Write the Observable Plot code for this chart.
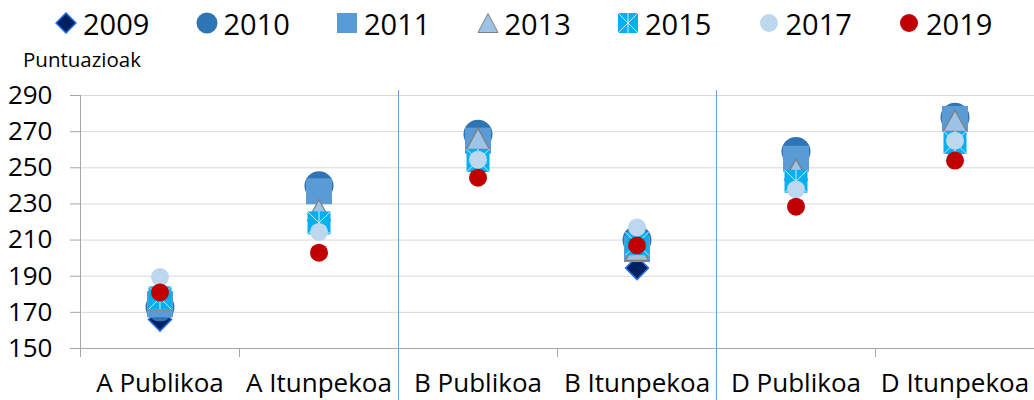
<!DOCTYPE html>
<html><head><meta charset="utf-8">
<script src="https://cdn.jsdelivr.net/npm/d3@7"></script>
<script src="https://cdn.jsdelivr.net/npm/@observablehq/plot@0.6"></script>
<style>
body{margin:0;background:#fff;font-family:"Open Sans",sans-serif;}
#wrap{position:relative;width:1034px;height:400px;overflow:hidden;background:#fff;}
#chart{position:absolute;left:0;top:0;}
#legend{position:absolute;left:55px;top:0;height:46px;display:flex;align-items:center;}
.item{width:140.5px;display:flex;align-items:center;}
.item svg{margin-right:6px;flex:none;}
.item span{font-size:29px;line-height:29px;color:#000;}
#ylab{position:absolute;left:23px;top:49px;font-size:20.5px;line-height:20px;color:#000;}
</style></head><body>
<div id="wrap"><div id="chart"></div><div id="legend"></div><div id="ylab"></div></div>
<script>
// ---- data ----
const categories = ["A Publikoa","A Itunpekoa","B Publikoa","B Itunpekoa","D Publikoa","D Itunpekoa"];
const groupStarts = ["B Publikoa","D Publikoa"];
const years = ["2009","2010","2011","2013","2015","2017","2019"];
const v2009 = [166, null, null, 194.5, null, null];
const v2010 = [173, 240, 268.5, 210, 259, 278];
const v2011 = [174.5, 237, 265, 205, 255, 277];
const v2013 = [177, 226.5, 266, 204.5, 249, 276];
const v2015 = [178, 219.5, 254, 208, 242.5, 264];
const v2017 = [189.5, 214.5, 254.5, 217, 238, 265];
const v2019 = [181, 203, 244.5, 207, 228.5, 254];
const yTicks = [150,170,190,210,230,250,270,290];
const yLabel = "Puntuazioak";

// ---- symbols ----
const rOf = s => Math.sqrt(s / Math.PI);
const symSquare = {draw(c, s){const r = rOf(s); c.rect(-r, -r, 2*r, 2*r);}};
const symDiamond = {draw(c, s){const r = rOf(s); c.moveTo(0,-r); c.lineTo(r,0); c.lineTo(0,r); c.lineTo(-r,0); c.closePath();}};
const symTriangle = {draw(c, s){const r = rOf(s); const h = r*0.91; c.moveTo(0,-h); c.lineTo(r,h); c.lineTo(-r,h); c.closePath();}};
const symAsterisk = {draw(c, s){const r = rOf(s); c.moveTo(-r,-r); c.lineTo(r,r); c.moveTo(r,-r); c.lineTo(-r,r); c.moveTo(0,-r); c.lineTo(0,r);}};

const rows = vals => categories.map((cat, i) => ({cat, value: vals[i]})).filter(d => d.value != null);

const W = 1034, H = 400, mL = 80, mR = 0, mT = 95, mB = 52;
const bw = (W - mL - mR) / categories.length;
const plotH = H - mT - mB;
const grey = "#a6a6a6";

const chart = Plot.plot({
  width: W, height: H,
  marginLeft: mL, marginRight: mR, marginTop: mT, marginBottom: mB,
  style: {fontFamily: "Open Sans", color: "#000", background: "transparent", overflow: "visible"},
  x: {type: "band", domain: categories, padding: 0, axis: null},
  y: {domain: [150, 290], axis: null},
  marks: [
    Plot.gridY(yTicks, {stroke: "#d9d9d9", strokeOpacity: 1}),
    Plot.ruleY([150], {stroke: grey}),
    Plot.ruleX([categories[0]], {dx: -bw/2, stroke: grey}),
    Plot.ruleX(categories, {dx: -bw/2, stroke: grey, insetTop: plotH, insetBottom: -9}),
    Plot.ruleX(groupStarts, {dx: -bw/2, stroke: "#6a9fd8", insetTop: -5, insetBottom: -60}),
    Plot.axisY(yTicks, {tickSize: 10, tickPadding: 18, fontSize: 26, stroke: grey, label: null}),
    Plot.axisX({tickSize: 0, tickPadding: 25, fontSize: 26, label: null}),
    Plot.dot(rows(v2009), {x: "cat", y: "value", symbol: symDiamond, r: 11.5, fill: "#002060", stroke: "#1f6fe8", strokeWidth: 1.5}),
    Plot.dot(rows(v2010), {x: "cat", y: "value", symbol: "circle", r: 14.5, fill: "#2e75b6"}),
    Plot.dot(rows(v2011), {x: "cat", y: "value", symbol: symSquare, r: 13, fill: "#5b9bd5"}),
    Plot.dot(rows(v2013), {x: "cat", y: "value", symbol: symTriangle, r: 11.5, fill: "#9dc3e6", stroke: "#7f7f7f", strokeWidth: 1.25}),
    Plot.dot(rows(v2015), {x: "cat", y: "value", symbol: symSquare, r: 11.5, fill: "#00b0f0"}),
    Plot.dot(rows(v2015), {x: "cat", y: "value", symbol: symAsterisk, r: 11.5, fill: "none", stroke: "#d4ecfa", strokeWidth: 1}),
    Plot.dot(rows(v2017), {x: "cat", y: "value", symbol: "circle", r: 9, fill: "#bdd7ee"}),
    Plot.dot(rows(v2019), {x: "cat", y: "value", symbol: "circle", r: 9, fill: "#c00000"})
  ]
});
document.getElementById("chart").appendChild(chart);
document.getElementById("ylab").textContent = yLabel;

// ---- legend ----
const legendMarkers = {
  "2009": '<svg width="22" height="22"><path d="M11,1 L21,11 L11,21 L1,11 Z" fill="#002060" stroke="#1f6fe8" stroke-width="1.5"/></svg>',
  "2010": '<svg width="22" height="22"><circle cx="11" cy="11" r="10.5" fill="#2e75b6"/></svg>',
  "2011": '<svg width="22" height="22"><rect x="1" y="1" width="20" height="20" fill="#5b9bd5"/></svg>',
  "2013": '<svg width="22" height="22"><path d="M11,1.5 L21,20.5 L1,20.5 Z" fill="#9dc3e6" stroke="#7f7f7f" stroke-width="1"/></svg>',
  "2015": '<svg width="22" height="22"><rect x="1" y="1" width="20" height="20" fill="#00b0f0"/><path d="M1,1 L21,21 M21,1 L1,21 M11,1 L11,21" stroke="#d4ecfa" stroke-width="1"/></svg>',
  "2017": '<svg width="22" height="22"><circle cx="11" cy="11" r="9" fill="#bdd7ee"/></svg>',
  "2019": '<svg width="22" height="22"><circle cx="11" cy="11" r="9" fill="#c00000"/></svg>'
};
const legend = document.getElementById("legend");
years.forEach(y => {
  const it = document.createElement("div");
  it.className = "item";
  it.innerHTML = legendMarkers[y] + "<span>" + y + "</span>";
  legend.appendChild(it);
});
</script>
</body></html>
